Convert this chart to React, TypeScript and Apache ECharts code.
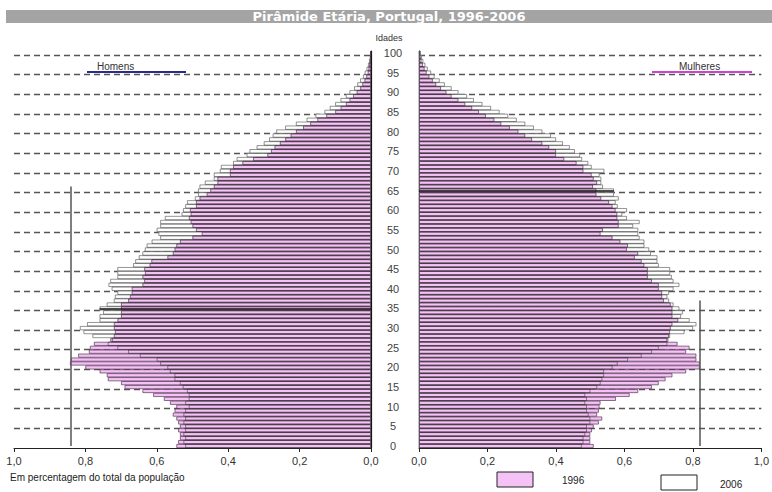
import React, { useEffect, useRef } from 'react';
import * as echarts from 'echarts';

const ages: string[] = Array.from({ length: 101 }, (_, i) => String(i));

const men1996 = [
  0.545, 0.54, 0.535, 0.535, 0.54, 0.535, 0.54, 0.545, 0.555, 0.55,
  0.545, 0.563, 0.58, 0.61, 0.64, 0.69, 0.70, 0.737, 0.74, 0.76,
  0.80, 0.843, 0.84, 0.82, 0.79, 0.787, 0.776, 0.73, 0.72, 0.717,
  0.72, 0.72, 0.71, 0.70, 0.70, 0.70, 0.70, 0.68, 0.675, 0.67,
  0.67, 0.64, 0.635, 0.64, 0.633, 0.635, 0.62, 0.615, 0.57, 0.555,
  0.55, 0.545, 0.535, 0.50, 0.474, 0.49, 0.50, 0.505, 0.51, 0.505,
  0.507, 0.49, 0.49, 0.48, 0.46, 0.45, 0.44, 0.43, 0.43, 0.395,
  0.395, 0.386, 0.36, 0.33, 0.29, 0.28, 0.27, 0.255, 0.24, 0.225,
  0.21, 0.19, 0.17, 0.15, 0.125, 0.10, 0.085, 0.07, 0.06, 0.05,
  0.04, 0.03, 0.024, 0.018, 0.013, 0.009, 0.007, 0.005, 0.003, 0.002,
  0.001,
];

const men2006 = [
  0.52, 0.525, 0.52, 0.525, 0.52, 0.52, 0.525, 0.52, 0.525, 0.52,
  0.51, 0.52, 0.51, 0.51, 0.515, 0.527, 0.535, 0.55, 0.55, 0.563,
  0.57, 0.59, 0.60, 0.647, 0.68, 0.71, 0.737, 0.725, 0.78, 0.805,
  0.815, 0.795, 0.76, 0.76, 0.75, 0.76, 0.74, 0.72, 0.717, 0.71,
  0.726, 0.735, 0.73, 0.71, 0.71, 0.71, 0.666, 0.66, 0.65, 0.64,
  0.633, 0.628, 0.614, 0.59, 0.595, 0.60, 0.59, 0.59, 0.577, 0.53,
  0.526, 0.52, 0.515, 0.493, 0.484, 0.484, 0.48, 0.465, 0.44, 0.44,
  0.423, 0.42, 0.386, 0.376, 0.348, 0.34, 0.32, 0.30, 0.285, 0.275,
  0.265, 0.24, 0.21, 0.18, 0.155, 0.13, 0.115, 0.10, 0.085, 0.07,
  0.06, 0.047, 0.038, 0.03, 0.022, 0.017, 0.012, 0.008, 0.005, 0.003,
  0.002,
];

const women1996 = [
  0.51, 0.50, 0.50, 0.50, 0.505, 0.51, 0.525, 0.535, 0.52, 0.525,
  0.527, 0.53, 0.575, 0.615, 0.64, 0.68, 0.70, 0.72, 0.74, 0.78,
  0.82, 0.82, 0.81, 0.81, 0.78, 0.79, 0.755, 0.728, 0.73, 0.733,
  0.735, 0.74, 0.757, 0.74, 0.74, 0.74, 0.735, 0.715, 0.71, 0.71,
  0.70, 0.70, 0.68, 0.668, 0.668, 0.668, 0.658, 0.65, 0.63, 0.64,
  0.607, 0.61, 0.588, 0.565, 0.53, 0.537, 0.583, 0.583, 0.579, 0.579,
  0.574, 0.565, 0.555, 0.532, 0.518, 0.518, 0.508, 0.52, 0.51, 0.504,
  0.48, 0.48, 0.46, 0.424, 0.40, 0.40, 0.38, 0.36, 0.33, 0.31,
  0.29, 0.265, 0.24, 0.22, 0.195, 0.175, 0.155, 0.135, 0.115, 0.095,
  0.08, 0.064, 0.05, 0.04, 0.03, 0.022, 0.016, 0.011, 0.007, 0.005,
  0.003,
];

const women2006 = [
  0.475, 0.48, 0.48, 0.485, 0.49, 0.49, 0.50, 0.50, 0.495, 0.49,
  0.49, 0.485, 0.49, 0.485, 0.50, 0.52, 0.53, 0.535, 0.54, 0.54,
  0.565, 0.58, 0.61, 0.65, 0.68, 0.70, 0.725, 0.724, 0.733, 0.775,
  0.80, 0.81, 0.79, 0.765, 0.77, 0.76, 0.743, 0.73, 0.725, 0.73,
  0.743, 0.76, 0.743, 0.738, 0.733, 0.733, 0.70, 0.696, 0.696, 0.677,
  0.672, 0.658, 0.658, 0.644, 0.64, 0.64, 0.625, 0.644, 0.607, 0.593,
  0.607, 0.58, 0.574, 0.583, 0.569, 0.569, 0.537, 0.532, 0.532, 0.527,
  0.541, 0.504, 0.494, 0.476, 0.47, 0.455, 0.44, 0.42, 0.40, 0.385,
  0.36, 0.335, 0.31, 0.285, 0.26, 0.235, 0.21, 0.185, 0.16, 0.14,
  0.115, 0.095, 0.075, 0.06, 0.045, 0.035, 0.025, 0.018, 0.012, 0.008,
  0.005,
];

// reference marker lines: [men, women]
const markerValues = [0.84, 0.82];
const markerTopAges = ['66', '37'];
const markerRowAges = [35, 65];

const xTickStep = 0.2;
const legendNames = ['1996', '2006'];
const titleText = 'Pirâmide Etária, Portugal, 1996-2006';
const sexNames = ['Homens', 'Mulheres'];

export default function App() {
  const ref = useRef<HTMLDivElement>(null);

  useEffect(() => {
    if (!ref.current) return;
    const chart = echarts.init(ref.current, null, { renderer: 'svg' });
    const font = 'Liberation Sans, Arial, sans-serif';
    const fmt = (v: number) => v.toFixed(1).replace('.', ',');
    const pink = '#f4c2f4';
    const border = '#4a2a4a';

    const xAxisBase = (grid: number, inverse: boolean) => ({
      gridIndex: grid,
      type: 'value',
      min: 0,
      max: 1,
      interval: xTickStep,
      inverse,
      axisLine: { show: true, lineStyle: { color: '#222', width: 1 } },
      axisTick: { show: true, length: 4, lineStyle: { color: '#222' } },
      axisLabel: { formatter: fmt, color: '#333', fontSize: 11, fontFamily: font, margin: 7 },
      splitLine: { show: false },
    });

    const splitLine = {
      show: true,
      interval: 4,
      showMinLine: false,
      showMaxLine: false,
      lineStyle: { color: '#555', width: 1.3, type: [6, 4] },
    };

    const yAxisBase = (grid: number, pos: string, labels: boolean) => ({
      gridIndex: grid,
      type: 'category',
      data: ages,
      position: pos,
      axisLine: { show: true, onZero: false, lineStyle: { color: '#111', width: 1.2 } },
      axisTick: { show: false },
      axisLabel: labels
        ? { show: true, interval: 4, margin: 26, align: 'center', color: '#444', fontSize: 11, fontFamily: font }
        : { show: false },
      splitLine,
    });

    const barCommon = { type: 'bar', barWidth: '100%', barGap: '-100%', silent: true };

    const sideSeries = (grid: number, d96: number[], d06: number[], k: number) => [
      { ...barCommon, name: legendNames[1], xAxisIndex: grid, yAxisIndex: grid, data: d06, itemStyle: { color: '#ffffff' } },
      { ...barCommon, name: legendNames[0], xAxisIndex: grid, yAxisIndex: grid, data: d96, itemStyle: { color: pink, borderColor: border, borderWidth: 0.65 } },
      {
        ...barCommon,
        name: legendNames[1],
        xAxisIndex: grid,
        yAxisIndex: grid,
        data: d06,
        itemStyle: { color: 'rgba(0,0,0,0)', borderColor: '#2a2a2a', borderWidth: 0.5 },
        markLine: {
          silent: true,
          symbol: ['none', 'none'],
          label: { show: false },
          lineStyle: { color: '#555', width: 1.5, type: 'solid' },
          data: [
            [{ coord: [markerValues[k], '0'] }, { coord: [markerValues[k], markerTopAges[k]] }],
            [
              { coord: [0, String(markerRowAges[k])], lineStyle: { color: '#111', width: 1.5, type: 'solid' } },
              { coord: [Math.max(d96[markerRowAges[k]], d06[markerRowAges[k]]), String(markerRowAges[k])] },
            ],
          ],
        },
      },
    ];

    const option = {
      animation: false,
      backgroundColor: '#ffffff',
      grid: [
        { left: 14, top: 51, width: 357, height: 397 },
        { left: 419, top: 51, width: 356, height: 397 },
      ],
      xAxis: [xAxisBase(0, true), xAxisBase(1, false)],
      yAxis: [yAxisBase(0, 'right', false), yAxisBase(1, 'left', true)],
      series: [...sideSeries(0, men1996, men2006, 0), ...sideSeries(1, women1996, women2006, 1)],
      graphic: [
        { type: 'rect', shape: { x: 6, y: 10, width: 766, height: 13 }, style: { fill: '#a4a4a4' }, silent: true },
        {
          type: 'text', x: 389, y: 16.5,
          style: { text: titleText, fill: '#ffffff', fontSize: 13, fontWeight: 'bold', fontFamily: 'DejaVu Sans, sans-serif', align: 'center', verticalAlign: 'middle' },
        },
        {
          type: 'text', x: 389, y: 38,
          style: { text: 'Idades', fill: '#333', fontSize: 9, fontFamily: font, align: 'center', verticalAlign: 'middle' },
        },
        {
          type: 'text', x: 97, y: 66,
          style: { text: sexNames[0], fill: '#333', fontSize: 10, fontFamily: font, align: 'left', verticalAlign: 'middle' },
        },
        { type: 'line', shape: { x1: 87, y1: 72, x2: 186, y2: 72 }, style: { stroke: '#2b2b8c', lineWidth: 2 } },
        {
          type: 'text', x: 679, y: 66,
          style: { text: sexNames[1], fill: '#333', fontSize: 10, fontFamily: font, align: 'left', verticalAlign: 'middle' },
        },
        { type: 'line', shape: { x1: 652, y1: 72, x2: 752, y2: 72 }, style: { stroke: '#cc44cc', lineWidth: 2 } },
        {
          type: 'text', x: 10, y: 477,
          style: { text: 'Em percentagem do total da população', fill: '#222', fontSize: 10, fontFamily: font, align: 'left', verticalAlign: 'middle' },
        },
        { type: 'rect', shape: { x: 497, y: 472, width: 36, height: 15 }, style: { fill: pink, stroke: '#222', lineWidth: 1 } },
        {
          type: 'text', x: 562, y: 480,
          style: { text: legendNames[0], fill: '#222', fontSize: 10, fontFamily: font, align: 'left', verticalAlign: 'middle' },
        },
        { type: 'rect', shape: { x: 661, y: 475, width: 36, height: 15 }, style: { fill: '#fff', stroke: '#222', lineWidth: 1 } },
        {
          type: 'text', x: 720, y: 484,
          style: { text: legendNames[1], fill: '#222', fontSize: 10, fontFamily: font, align: 'left', verticalAlign: 'middle' },
        },
      ],
    };

    chart.setOption(option as any);
    return () => chart.dispose();
  }, []);

  return <div ref={ref} style={{ position: 'absolute', left: 0, top: 0, width: 772, height: 492 }} />;
}
